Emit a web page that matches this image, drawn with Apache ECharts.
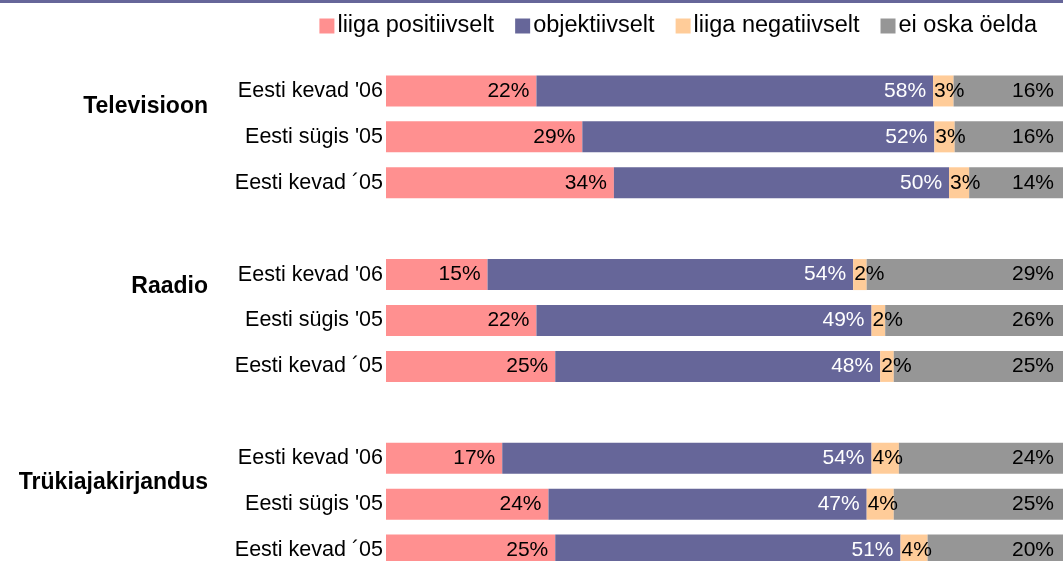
<!DOCTYPE html>
<html>
<head>
<meta charset="utf-8">
<script src="https://cdn.jsdelivr.net/npm/echarts@6/dist/echarts.min.js"></script>
<style>
html,body{margin:0;padding:0;background:#fff;}
#chart{width:1063px;height:561px;}
</style>
</head>
<body>
<div id="chart"></div>
<script>
// Row labels (with blank spacer rows between groups)
const categories = [
  "Eesti kevad '06", "Eesti sügis '05", "Eesti kevad ´05", " ",
  "Eesti kevad '06", "Eesti sügis '05", "Eesti kevad ´05", "  ",
  "Eesti kevad '06", "Eesti sügis '05", "Eesti kevad ´05"
];
const groups = ["Televisioon", "Raadio", "Trükiajakirjandus"];
const seriesNames = ["liiga positiivselt", "objektiivselt", "liiga negatiivselt", "ei oska öelda"];

const liigaPositiivselt = [22, 29, 34, null, 15, 22, 25, null, 17, 24, 25];
const objektiivselt     = [58, 52, 50, null, 54, 49, 48, null, 54, 47, 51];
const liigaNegatiivselt = [3, 3, 3, null, 2, 2, 2, null, 4, 4, 4];
const eiOskaOelda       = [16, 16, 14, null, 29, 26, 25, null, 24, 25, 20];

const raw = [liigaPositiivselt, objektiivselt, liigaNegatiivselt, eiOskaOelda];
const colors = ["#FF9090", "#666699", "#FFCC99", "#969696"];
const labelColors = ["#000", "#fff", "#000", "#000"];

// 100% stacked: normalise each row by its total
const totals = categories.map((c, i) => raw.reduce((s, a) => s + (a[i] == null ? 0 : a[i]), 0));

const FONT = "'Liberation Sans', Arial, Helvetica, sans-serif";

const series = raw.map((arr, k) => ({
  name: seriesNames[k],
  type: 'bar',
  stack: 'total',
  barWidth: 31,
  itemStyle: { color: colors[k] },
  label: {
    show: true,
    position: k === 2 ? 'insideLeft' : 'insideRight',
    distance: k === 2 ? 1 : (k === 3 ? 9 : 7),
    color: labelColors[k],
    fontFamily: FONT,
    fontSize: 21,
    formatter: p => (p.data && p.data.raw != null) ? p.data.raw + '%' : ''
  },
  emphasis: { disabled: true },
  data: arr.map((v, i) => v == null ? null : { value: v / totals[i] * 100, raw: v })
}));

const chart = echarts.init(document.getElementById('chart'), null, { renderer: 'canvas' });
chart.setOption({
  animation: false,
  backgroundColor: '#fff',
  legend: {
    data: seriesNames,
    right: 21,
    top: 9,
    icon: 'rect',
    itemWidth: 15,
    itemHeight: 15,
    itemGap: 21,
    textStyle: { fontFamily: FONT, fontSize: 23.5, color: '#000', padding: [0, 0, 0, -2] }
  },
  grid: { left: 386, top: 68, width: 677, height: 505, containLabel: false, outerBoundsMode: 'none' },
  xAxis: { type: 'value', min: 0, max: 100, show: false },
  yAxis: {
    type: 'category',
    data: categories,
    inverse: true,
    axisLine: { show: false },
    axisTick: { show: false },
    splitLine: { show: false },
    axisLabel: { fontFamily: FONT, fontSize: 21.5, color: '#000', margin: 3 }
  },
  graphic: [
    { type: 'rect', left: 0, top: 0, shape: { width: 1063, height: 3 }, style: { fill: '#666699' } },
    { type: 'text', x: 208, y: 107, style: { text: groups[0], font: "bold 23px 'Liberation Sans', Arial, sans-serif", fill: '#000', textAlign: 'right', textVerticalAlign: 'middle' } },
    { type: 'text', x: 208, y: 287, style: { text: groups[1], font: "bold 23px 'Liberation Sans', Arial, sans-serif", fill: '#000', textAlign: 'right', textVerticalAlign: 'middle' } },
    { type: 'text', x: 208, y: 483, style: { text: groups[2], font: "bold 23px 'Liberation Sans', Arial, sans-serif", fill: '#000', textAlign: 'right', textVerticalAlign: 'middle' } }
  ],
  series: series
});
</script>
</body>
</html>
